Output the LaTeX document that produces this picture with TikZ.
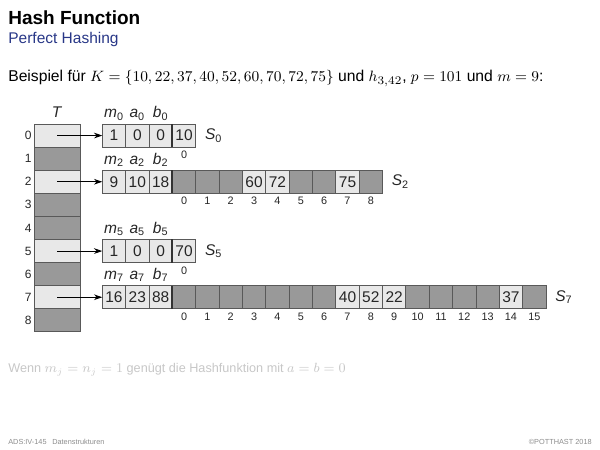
\documentclass[tikz,border=0pt]{standalone}
\usepackage[no-math]{fontspec}
\setmainfont{Liberation Sans}
\usetikzlibrary{arrows.meta, calc, positioning}
\usepackage{xcolor}
\definecolor{cellhi}{gray}{0.91}
\definecolor{celllo}{gray}{0.60}
\definecolor{cellline}{gray}{0.35}
\definecolor{subblue}{RGB}{40,55,135}
\tikzstyle{arrow} = [line width=0.6pt, -{Stealth[length=5pt, width=3.4pt]}]
\tikzset{
  cell/.style   = {draw=cellline, line width=0.5pt, minimum width=14.01pt,
                   minimum height=13.86pt, inner sep=0pt, outer sep=0pt,
                   text=black!85, font=\fontsize{9.3}{10}\selectfont},
  tabrow/.style = {draw=cellline, line width=0.5pt, minimum width=27.6pt,
                   minimum height=13.86pt, inner sep=0pt, outer sep=0pt},
  idx/.style    = {font=\fontsize{6.5}{7}\selectfont, inner sep=0pt,
                   anchor=north, text=black!85},
  rowlbl/.style = {font=\fontsize{7.2}{8}\selectfont, inner sep=0pt,
                   anchor=east, xshift=-1.2pt, text=black!85},
  lbl/.style    = {font=\fontsize{9.3}{10}\selectfont, inner sep=0pt, text=black!85},
  sep/.style    = {draw=black!80, line width=1.1pt}
}
\begin{document}
\begin{tikzpicture}[x=0.6pt, y=-0.6pt]
  \useasboundingbox (0,0) rectangle (600,450);

  % Heading and problem statement
  \node[anchor=base west, inner sep=0pt, font=\fontsize{11.4}{13}\selectfont\bfseries]
    (title) at (8,25) {Hash Function};
  \node[anchor=base west, inner sep=0pt, text=subblue, font=\fontsize{9.3}{11}\selectfont]
    (subtitle) at (8,44) {Perfect Hashing};
  \node[anchor=base west, inner sep=0pt, font=\fontsize{9.4}{11}\selectfont]
    (intro) at (8,82) {Beispiel für $K=\{10,22,37,40,52,60,70,72,75\}$ und $h_{3,42}$, $p=101$ und $m=9$:};

  % Table T
  \node[lbl, anchor=base] (tlbl) at (57,118) {\textit{T}};
  \foreach \i/\f in {0/cellhi,1/celllo,2/cellhi,3/celllo,4/celllo,5/cellhi,6/celllo,7/cellhi,8/celllo} {
    \node[tabrow, fill=\f] (t\i) at (57,135.55+23.1*\i) {};
    \node[rowlbl] (t\i-lbl) at (t\i.west) {\i};
  }

  % Second level tables S_j
  \foreach \r/\m/\a/\b/\n/\keys in {0/1/0/0/1/{0/10}, 2/9/10/18/9/{3/60,4/72,7/75},
                                    5/1/0/0/1/{0/70}, 7/16/23/88/16/{7/40,8/52,9/22,14/37}} {
    \pgfmathtruncatemacro{\last}{\n-1}
    % header m, a, b
    \foreach \v [count=\j from 0] in {\m,\a,\b}
      \node[cell, fill=cellhi] (s\r-h\j) at (114+23.35*\j,135.55+23.1*\r) {\v};
    \foreach \v [count=\j from 0] in {m,a,b}
      \node[lbl, anchor=base] (s\r-l\j) at ([yshift=3.6pt]s\r-h\j.north) {\textit{\v}\textsubscript{\r}};
    % slots
    \foreach \k in {0,...,\last} {
      \node[cell, fill=celllo] (s\r-\k) at (184.05+23.35*\k,135.55+23.1*\r) {};
      \node[idx] (s\r-i\k) at ([yshift=-2.2pt]s\r-\k.south) {\k};
    }
    \foreach \k/\v in \keys
      \node[cell, fill=cellhi] (s\r-\k) at (184.05+23.35*\k,135.55+23.1*\r) {\v};
    \draw[sep] (s\r-h2.north east) -- (s\r-h2.south east);
    \node[lbl, anchor=west] (s\r-name) at ([xshift=5.4pt]s\r-\last.east) {\textit{S}\textsubscript{\r}};
    \draw[arrow] (t\r.center) -- (s\r-h0.west);
  }

  % Remark and footer
  \node[anchor=base west, inner sep=0pt, text=black!22, font=\fontsize{7.6}{9}\selectfont]
    (remark) at (8,373) {Wenn $m_j=n_j=1$ genügt die Hashfunktion mit $a=b=0$};
  \node[anchor=base west, inner sep=0pt, text=black!45, font=\fontsize{4.4}{5}\selectfont]
    (foot1) at (8,445) {ADS:IV-145};
  \node[anchor=base west, inner sep=0pt, text=black!45, font=\fontsize{4.4}{5}\selectfont]
    (foot2) at (52,445) {Datenstrukturen};
  \node[anchor=base east, inner sep=0pt, text=black!45, font=\fontsize{4.4}{5}\selectfont]
    (foot3) at (592,445) {©POTTHAST 2018};
\end{tikzpicture}
\end{document}
